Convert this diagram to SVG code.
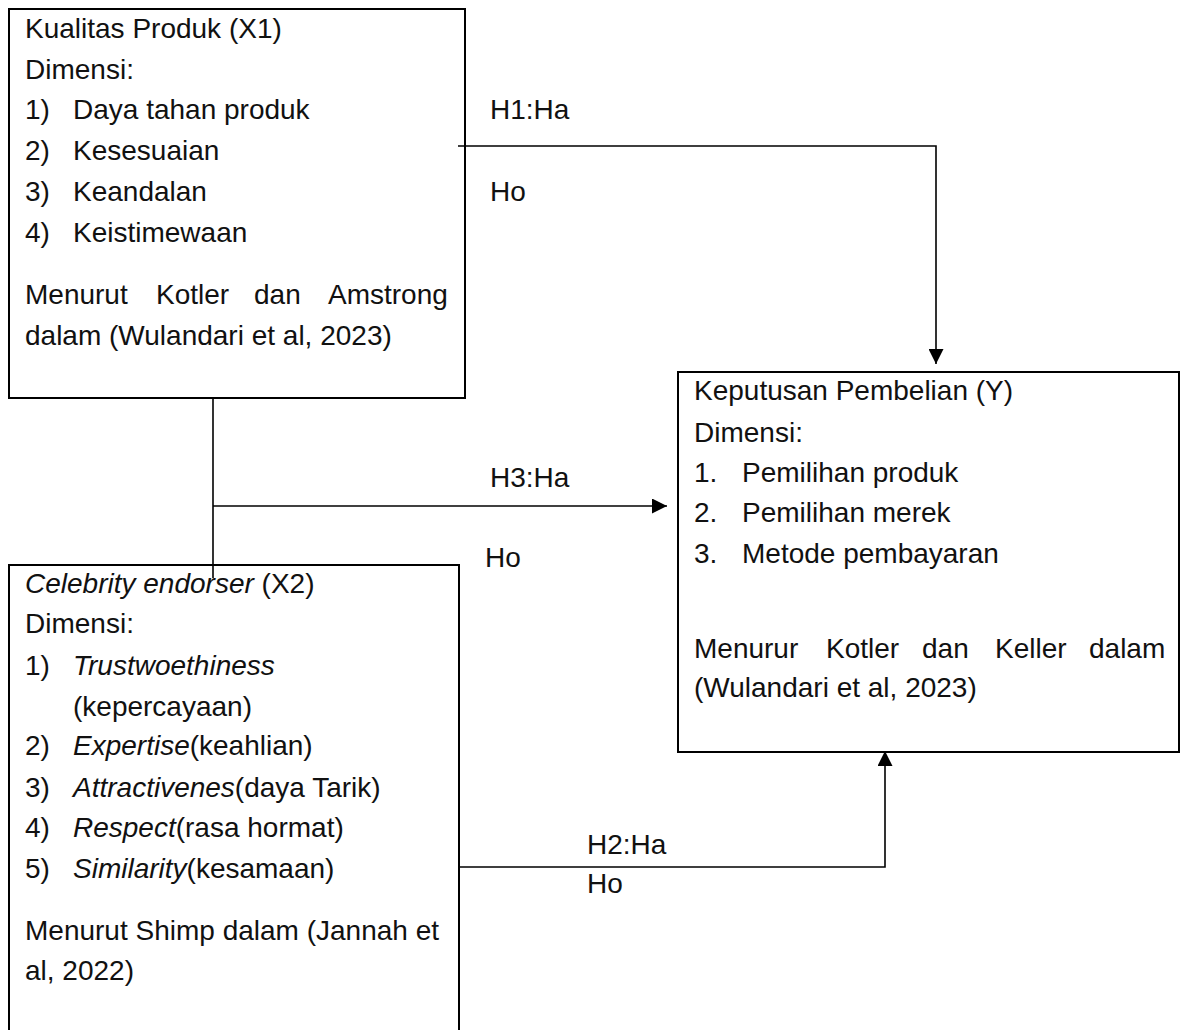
<svg xmlns="http://www.w3.org/2000/svg" width="1181" height="1030" viewBox="0 0 1181 1030">
<defs>
<style>
text{font-family:"Liberation Sans",Arial,sans-serif;font-size:28px;fill:#111}
.box{fill:none;stroke:#000;stroke-width:2}
.ln{fill:none;stroke:#000;stroke-width:1.6}
.i{font-style:italic}
</style>
<marker id="ah" markerWidth="10" markerHeight="10" refX="9" refY="5" orient="auto" markerUnits="userSpaceOnUse" viewBox="0 0 10 10">
<path d="M0,0 L10,5 L0,10 Z" fill="#000"/>
</marker>
<marker id="ah2" markerWidth="15" markerHeight="15" refX="15" refY="7.5" orient="auto" markerUnits="userSpaceOnUse" viewBox="0 0 15 15">
<path d="M0,0 L15,7.5 L0,15 Z" fill="#000"/>
</marker>
</defs>
<rect width="1181" height="1030" fill="#fff"/>
<g id="connectors">
<polyline class="ln" points="458,146 936,146 936,364" marker-end="url(#ah2)"/>
<line class="ln" x1="213" y1="397" x2="213" y2="578"/>
<line class="ln" x1="213" y1="506" x2="667" y2="506" marker-end="url(#ah2)"/>
<polyline class="ln" points="459,867 885,867 885,751" marker-end="url(#ah2)"/>
<text x="490" y="119">H1:Ha</text>
<text x="490" y="201">Ho</text>
<text x="490" y="487">H3:Ha</text>
<text x="485" y="567">Ho</text>
<text x="587" y="854">H2:Ha</text>
<text x="587" y="893">Ho</text>
</g>
<g id="x1">
<rect class="box" x="9" y="9" width="456" height="389"/>
<text x="25" y="38">Kualitas Produk (X1)</text>
<text x="25" y="79">Dimensi:</text>
<text x="25" y="119">1)</text><text x="73" y="119">Daya tahan produk</text>
<text x="25" y="160">2)</text><text x="73" y="160">Kesesuaian</text>
<text x="25" y="201">3)</text><text x="73" y="201">Keandalan</text>
<text x="25" y="242">4)</text><text x="73" y="242">Keistimewaan</text>
<text y="304"><tspan x="25">Menurut</tspan><tspan x="156">Kotler</tspan><tspan x="254">dan</tspan><tspan x="328">Amstrong</tspan></text>
<text x="25" y="345">dalam (Wulandari et al, 2023)</text>
</g>
<g id="y">
<rect class="box" x="678" y="372" width="501" height="380"/>
<text x="694" y="400">Keputusan Pembelian (Y)</text>
<text x="694" y="442">Dimensi:</text>
<text x="694" y="482">1.</text><text x="742" y="482">Pemilihan produk</text>
<text x="694" y="522">2.</text><text x="742" y="522">Pemilihan merek</text>
<text x="694" y="563">3.</text><text x="742" y="563">Metode pembayaran</text>
<text y="658"><tspan x="694">Menurur</tspan><tspan x="826">Kotler</tspan><tspan x="922">dan</tspan><tspan x="995">Keller</tspan><tspan x="1089">dalam</tspan></text>
<text x="694" y="697">(Wulandari et al, 2023)</text>
</g>
<g id="x2">
<rect class="box" x="9" y="565" width="450" height="480"/>
<text x="25" y="593"><tspan class="i">Celebrity endorser</tspan> (X2)</text>
<text x="25" y="633">Dimensi:</text>
<text x="25" y="675">1)</text><text x="73" y="675" class="i">Trustwoethiness</text>
<text x="73" y="716">(kepercayaan)</text>
<text x="25" y="755">2)</text><text x="73" y="755"><tspan class="i">Expertise</tspan>(keahlian)</text>
<text x="25" y="797">3)</text><text x="73" y="797"><tspan class="i">Attractivenes</tspan>(daya Tarik)</text>
<text x="25" y="837">4)</text><text x="73" y="837"><tspan class="i">Respect</tspan>(rasa hormat)</text>
<text x="25" y="878">5)</text><text x="73" y="878"><tspan class="i">Similarity</tspan>(kesamaan)</text>
<text x="25" y="940">Menurut Shimp dalam (Jannah et</text>
<text x="25" y="980">al, 2022)</text>
</g>
</svg>
